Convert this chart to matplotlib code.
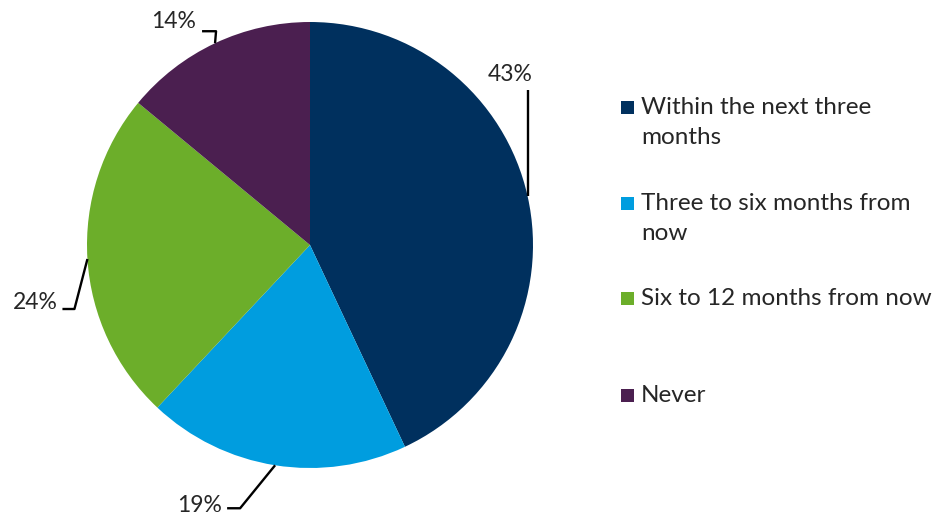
import numpy as np
import matplotlib
matplotlib.use("Agg")
import matplotlib.pyplot as plt
from matplotlib.patches import Rectangle

# Survey answer shares (percent), clockwise from 12 o'clock
categories = [
    "Within the next three\nmonths",
    "Three to six months from\nnow",
    "Six to 12 months from now",
    "Never",
]
shares = [43, 19, 24, 14]
colors = ["#00305E", "#009DDF", "#6CAE2A", "#4B1F50"]

plt.rcParams["font.family"] = ["Lato", "DejaVu Sans"]

W, H = 933, 514
fig = plt.figure(figsize=(W / 100, H / 100), dpi=100)
ax = fig.add_axes([0, 0, 1, 1])

cx, cy, r = 310, H - 245, 223
wedges, _ = ax.pie(shares, colors=colors, startangle=90, counterclock=False,
                   center=(cx, cy), radius=r, frame=True,
                   wedgeprops=dict(linewidth=0))
ax.set_xlim(0, W)
ax.set_ylim(0, H)
ax.set_aspect("equal")
ax.axis("off")

# leader lines: (elbow offset from edge point, horizontal run, label anchor)
leaders = [
    dict(elbow=(0, 106), run=0, text=(-17, 122), ha="center"),
    dict(elbow=(-35, -43), run=-13, text=(-53, -40), ha="right"),
    dict(elbow=(-13, -50), run=-12, text=(-30, -43), ha="right"),
    dict(elbow=(1, 12), run=-14, text=(-19, 22), ha="right"),
]

for w, val, ld in zip(wedges, shares, leaders):
    mid = np.deg2rad((w.theta1 + w.theta2) / 2)
    ex, ey = cx + r * np.cos(mid), cy + r * np.sin(mid)
    bx, by = ex + ld["elbow"][0], ey + ld["elbow"][1]
    xs = [ex, bx, bx + ld["run"]]
    ys = [ey, by, by]
    ax.plot(xs, ys, color="black", lw=1.7, solid_capstyle="butt")
    ax.text(ex + ld["text"][0], ey + ld["text"][1], f"{val}%",
            ha=ld["ha"], va="center", fontsize=16.5, color="#262626")

# legend on the right
leg_y = [H - 107, H - 203, H - 298, H - 395]
for lab, col, y in zip(categories, colors, leg_y):
    ax.add_patch(Rectangle((621, y - 6.5), 13, 13, color=col, lw=0))
    ax.text(641, y + 10, lab, ha="left", va="top", fontsize=17.5,
            color="#262626", linespacing=1.5)

fig.savefig("out.png", dpi=100)
